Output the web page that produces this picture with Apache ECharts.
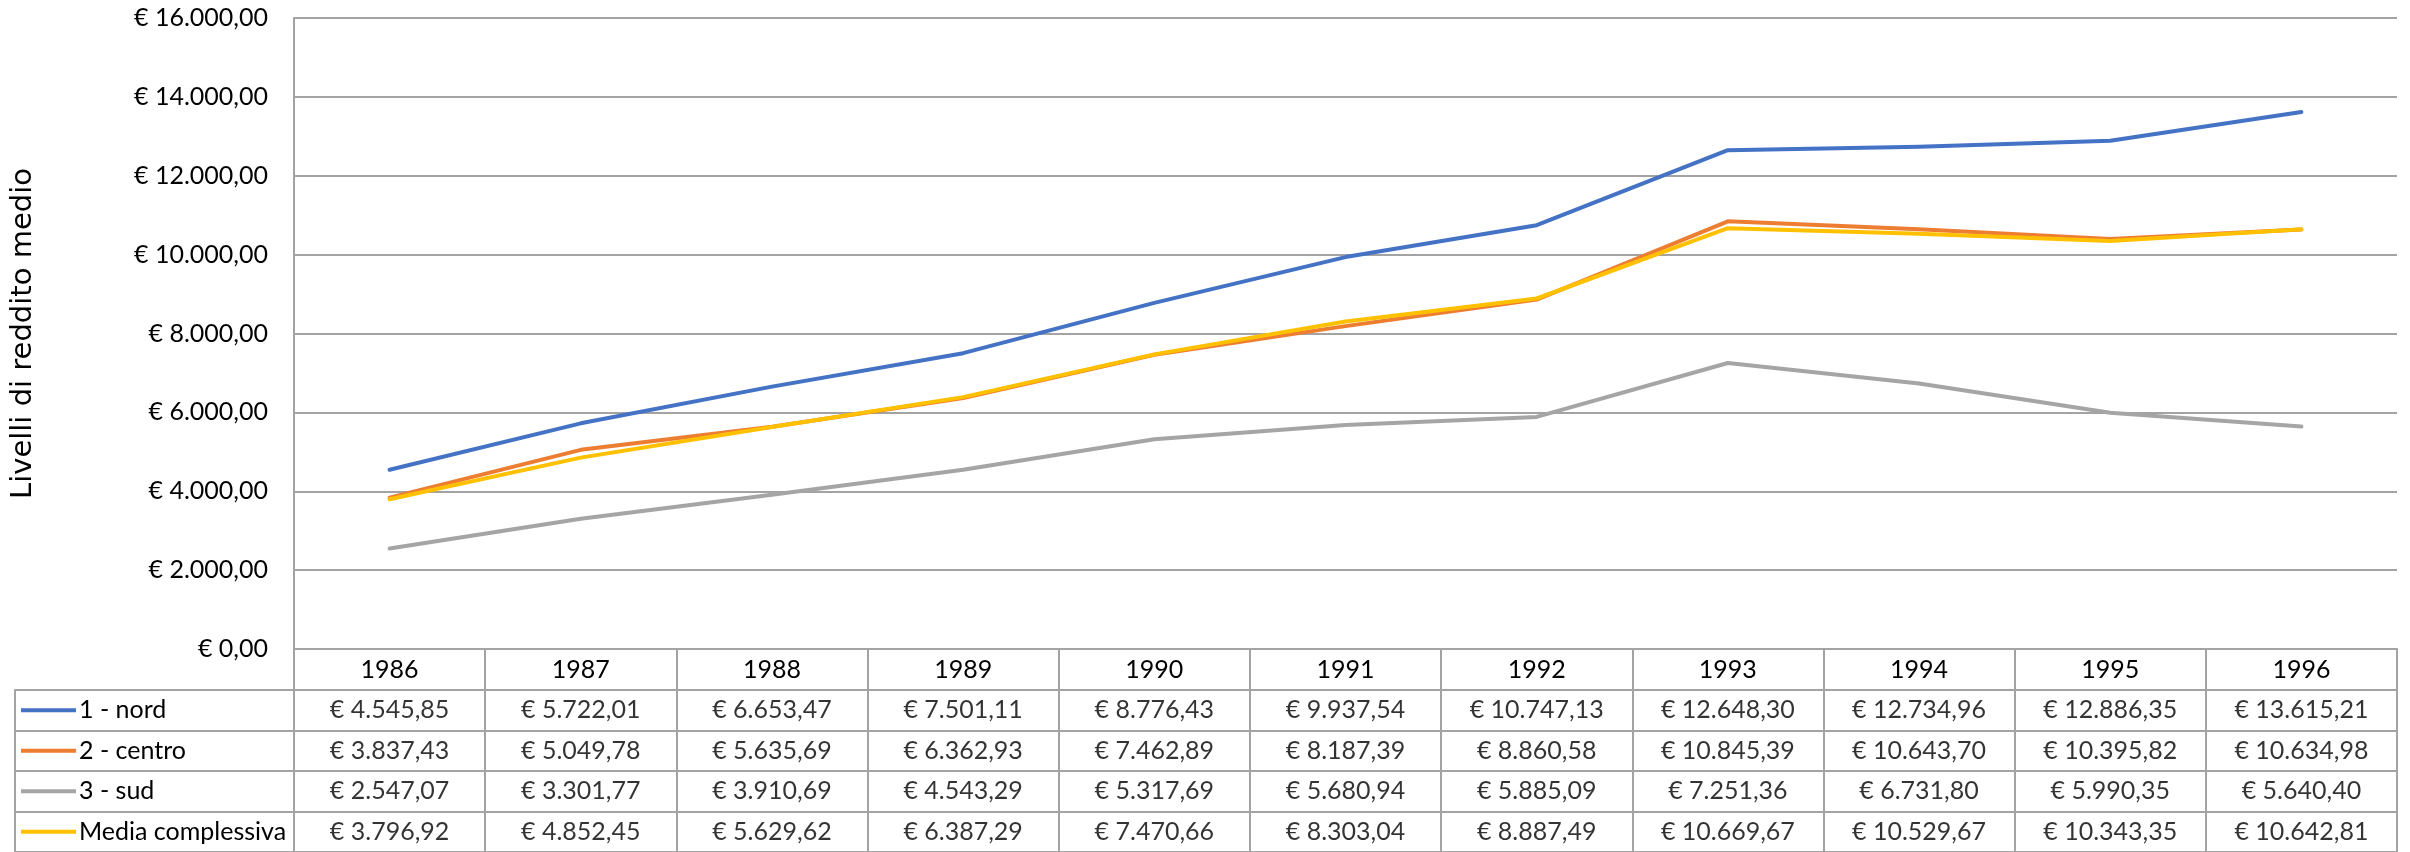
<!DOCTYPE html>
<html>
<head>
<meta charset="utf-8">
<script src="https://cdn.jsdelivr.net/npm/echarts@6/dist/echarts.min.js"></script>
<style>
html,body{margin:0;padding:0;background:#fff;}
#c{width:2410px;height:852px;}
</style>
</head>
<body>
<div id="c"></div>
<script>
const years = ['1986','1987','1988','1989','1990','1991','1992','1993','1994','1995','1996'];
const nord = [4545.85, 5722.01, 6653.47, 7501.11, 8776.43, 9937.54, 10747.13, 12648.30, 12734.96, 12886.35, 13615.21];
const centro = [3837.43, 5049.78, 5635.69, 6362.93, 7462.89, 8187.39, 8860.58, 10845.39, 10643.70, 10395.82, 10634.98];
const sud = [2547.07, 3301.77, 3910.69, 4543.29, 5317.69, 5680.94, 5885.09, 7251.36, 6731.80, 5990.35, 5640.40];
const media = [3796.92, 4852.45, 5629.62, 6387.29, 7470.66, 8303.04, 8887.49, 10669.67, 10529.67, 10343.35, 10642.81];
const seriesNames = ['1 - nord', '2 - centro', '3 - sud', 'Media complessiva'];
const colors = ['#4472C4', '#ED7D31', '#A5A5A5', '#FFC000'];
const yMin = 0, yMax = 16000, yStep = 2000;
const axisTitle = 'Livelli di reddito medio';

const allSeries = [nord, centro, sud, media];

function fmt(v) {
  const parts = v.toFixed(2).split('.');
  const intPart = parts[0].replace(/\B(?=(\d{3})+(?!\d))/g, '.');
  return '€ ' + intPart + ',' + parts[1];
}

const FONT = 'Lato, "Liberation Sans", sans-serif';
const FS = 25;
const GRID_COLOR = '#a3a3a3';

const tableData = [];
allSeries.forEach((arr, r) => {
  arr.forEach((v, i) => tableData.push([i, r, v]));
});

const rich = {};
seriesNames.forEach((n, i) => {
  rich['k' + i] = { width: 55, height: 4, backgroundColor: colors[i] };
});
rich.n = { fontFamily: FONT, fontSize: FS, color: '#000', padding: [0, 0, 0, 3] };

const chart = echarts.init(document.getElementById('c'), null, { renderer: 'canvas' });
chart.setOption({
  backgroundColor: '#fff',
  animation: false,
  grid: [
    { left: 294, right: 13, top: 18, height: 631, containLabel: false },
    { left: 294, right: 13, top: 690, height: 166, containLabel: false }
  ],
  xAxis: [
    {
      type: 'category', gridIndex: 0, data: years, boundaryGap: true,
      axisLine: { show: true, lineStyle: { color: GRID_COLOR, width: 2 } },
      axisTick: { show: true, length: 41, inside: false, lineStyle: { color: GRID_COLOR, width: 2 } },
      axisLabel: { margin: 21, verticalAlign: 'middle', fontFamily: FONT, fontSize: FS, color: '#000' },
      splitLine: { show: false }
    },
    {
      type: 'category', gridIndex: 1, data: years, boundaryGap: true,
      axisLine: { show: false }, axisTick: { show: false }, axisLabel: { show: false },
      splitLine: { show: true, lineStyle: { color: GRID_COLOR, width: 2 } }
    }
  ],
  yAxis: [
    {
      type: 'value', gridIndex: 0, min: yMin, max: yMax, interval: yStep,
      name: axisTitle, nameLocation: 'middle', nameRotate: 90, nameGap: 256,
      nameTextStyle: { fontFamily: '"DejaVu Sans", sans-serif', fontSize: 29, color: '#000' },
      axisLine: { show: true, lineStyle: { color: GRID_COLOR, width: 2 } },
      axisTick: { show: false },
      axisLabel: { margin: 26, fontFamily: FONT, fontSize: FS, color: '#000', formatter: v => fmt(v) },
      splitLine: { show: true, lineStyle: { color: GRID_COLOR, width: 2 } }
    },
    {
      type: 'category', gridIndex: 1, data: seriesNames, inverse: true, boundaryGap: true,
      axisLine: { show: true, lineStyle: { color: GRID_COLOR, width: 2 } },
      axisTick: { show: true, length: 279, inside: false, lineStyle: { color: GRID_COLOR, width: 2 } },
      axisLabel: {
        margin: 273, align: 'left',
        formatter: (v, i) => '{k' + i + '|}{n|' + v + '}',
        rich: rich
      },
      splitLine: { show: true, lineStyle: { color: GRID_COLOR, width: 2 } }
    },
    {
      type: 'category', gridIndex: 1, data: seriesNames, inverse: true, offset: 279, position: 'left',
      axisLine: { show: true, lineStyle: { color: GRID_COLOR, width: 2 } },
      axisTick: { show: false }, axisLabel: { show: false }, splitLine: { show: false }
    }
  ],
  series: [
    ...allSeries.map((arr, i) => ({
      type: 'line', name: seriesNames[i], xAxisIndex: 0, yAxisIndex: 0,
      data: arr, showSymbol: false, symbol: 'none',
      lineStyle: { color: colors[i], width: 4, cap: 'round', join: 'round' },
      itemStyle: { color: colors[i] }
    })),
    {
      type: 'scatter', xAxisIndex: 1, yAxisIndex: 1, symbolSize: 0,
      data: tableData,
      label: {
        show: true, position: 'inside', fontFamily: FONT, fontSize: FS, color: '#000',
        formatter: p => fmt(p.value[2])
      },
      silent: true
    }
  ]
});
</script>
</body>
</html>
